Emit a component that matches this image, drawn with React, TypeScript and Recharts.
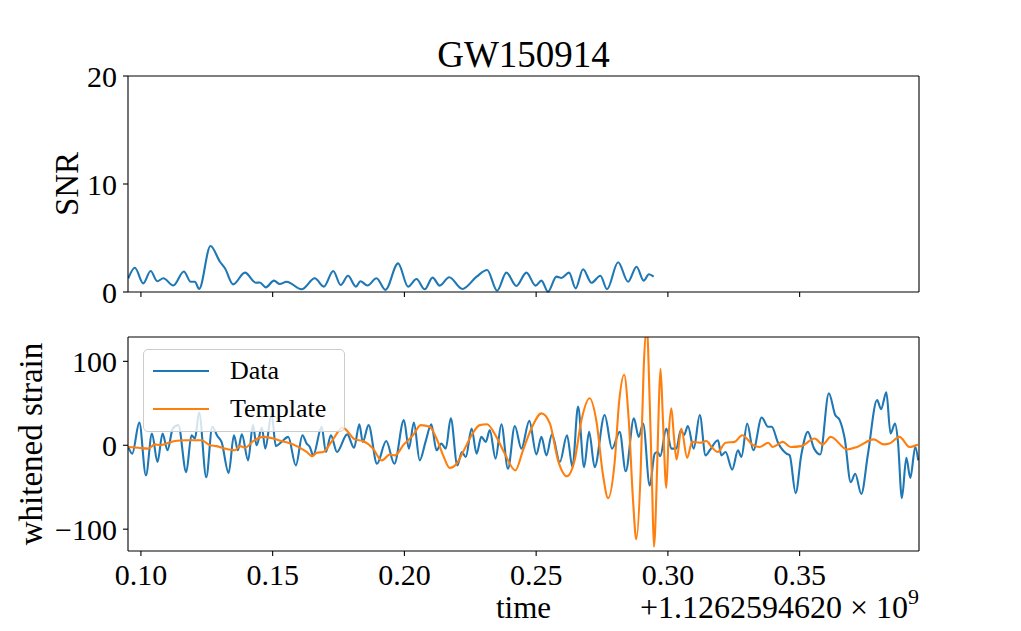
import React from 'react';
import { LineChart, Line, XAxis, YAxis, Legend } from 'recharts';

// ---------- data ----------
const snrTime = [0.0952, 0.0977, 0.1009, 0.1037, 0.1062, 0.1085, 0.1123, 0.1163, 0.1189, 0.1205, 0.1221, 0.1264, 0.1300, 0.1319, 0.1350, 0.1395, 0.1436, 0.1451, 0.1474, 0.1505, 0.1527, 0.1553, 0.1610, 0.1660, 0.1694, 0.1730, 0.1758, 0.1786, 0.1816, 0.1833, 0.1860, 0.1894, 0.1928, 0.1976, 0.2014, 0.2046, 0.2077, 0.2107, 0.2134, 0.2170, 0.2220, 0.2274, 0.2314, 0.2352, 0.2387, 0.2425, 0.2463, 0.2498, 0.2520, 0.2545, 0.2577, 0.2596, 0.2625, 0.2650, 0.2678, 0.2710, 0.2744, 0.2769, 0.2811, 0.2849, 0.2881, 0.2908, 0.2928, 0.2946];
const snrValue = [1.27, 2.25, 0.80, 1.94, 1.00, 1.27, 0.60, 1.90, 0.95, 0.95, 0.28, 4.26, 2.80, 2.20, 0.71, 1.79, 0.86, 0.88, 0.43, 1.05, 0.74, 0.95, 0.25, 1.27, 0.50, 1.94, 0.65, 1.50, 0.50, 1.00, 0.60, 1.27, 0.20, 2.65, 0.50, 1.20, 0.25, 1.33, 0.59, 1.36, 0.28, 1.42, 2.04, 0.12, 1.79, 0.56, 1.79, 0.59, 1.05, 0.03, 1.42, 1.30, 1.79, 0.34, 2.10, 0.86, 1.51, 0.25, 2.75, 0.95, 2.34, 1.05, 1.64, 1.42];

const dataTime = [0.0952, 0.0967, 0.0994, 0.1019, 0.1042, 0.1063, 0.1082, 0.1101, 0.1121, 0.1142, 0.1172, 0.1192, 0.1205, 0.1221, 0.1248, 0.1271, 0.1290, 0.1306, 0.1333, 0.1353, 0.1368, 0.1383, 0.1407, 0.1425, 0.1439, 0.1459, 0.1472, 0.1496, 0.1512, 0.1534, 0.1559, 0.1588, 0.1613, 0.1629, 0.1641, 0.1654, 0.1686, 0.1702, 0.1721, 0.1744, 0.1783, 0.1809, 0.1829, 0.1842, 0.1864, 0.1896, 0.1931, 0.1962, 0.1998, 0.2017, 0.2036, 0.2058, 0.2081, 0.2102, 0.2122, 0.2140, 0.2157, 0.2176, 0.2201, 0.2218, 0.2233, 0.2255, 0.2274, 0.2292, 0.2309, 0.2324, 0.2346, 0.2368, 0.2393, 0.2419, 0.2444, 0.2474, 0.2501, 0.2520, 0.2539, 0.2560, 0.2590, 0.2617, 0.2638, 0.2659, 0.2682, 0.2701, 0.2722, 0.2760, 0.2788, 0.2817, 0.2840, 0.2871, 0.2889, 0.2906, 0.2931, 0.2950, 0.2961, 0.2971, 0.2994, 0.3013, 0.3032, 0.3049, 0.3061, 0.3076, 0.3098, 0.3121, 0.3143, 0.3159, 0.3190, 0.3203, 0.3219, 0.3244, 0.3266, 0.3279, 0.3301, 0.3324, 0.3356, 0.3380, 0.3394, 0.3418, 0.3450, 0.3462, 0.3485, 0.3506, 0.3531, 0.3555, 0.3578, 0.3611, 0.3635, 0.3652, 0.3671, 0.3694, 0.3711, 0.3734, 0.3759, 0.3794, 0.3809, 0.3829, 0.3845, 0.3862, 0.3873, 0.3888, 0.3905, 0.3920, 0.3939, 0.3950];
const dataStrain = [-2, -10, 27, -36, 14, -20, 14, -6, 20, 24, -32, 12, 8, 39, -38, 22, 11, 4, -33, 12, -6, 13, -18, 24, 0, 21, -4, 37, -1, 4, 10, -24, 12, 2, -2, -12, 22, -8, 12, -8, 13, -3, 25, 4, 24, -22, 5, -22, 30, -4, 27, -18, 5, 25, -6, 2, -4, 32, -24, -8, -14, 20, -10, 10, 4, 18, -16, 25, -28, 23, -4, 29, -11, 10, -12, 13, -20, 12, -26, 46, -26, 16, -26, 36, -4, 16, -31, 32, 10, 26, -48, -10, -8, -13, 20, -4, -4, 18, 12, 23, -4, 36, -12, -6, 6, -12, -8, -29, -6, -14, 26, -6, 33, 22, 22, 3, -10, -12, -57, -12, 16, -4, -11, 62, 36, 30, 8, -44, -34, -58, -11, 54, 43, 63, 14, 26, 5, -63, -15, -39, -2, -18];

const templateTime = [0.0952, 0.0990, 0.1028, 0.1053, 0.1072, 0.1097, 0.1129, 0.1167, 0.1230, 0.1262, 0.1287, 0.1319, 0.1357, 0.1376, 0.1395, 0.1426, 0.1464, 0.1502, 0.1534, 0.1559, 0.1597, 0.1629, 0.1650, 0.1667, 0.1692, 0.1723, 0.1766, 0.1812, 0.1843, 0.1881, 0.1914, 0.1945, 0.1964, 0.1998, 0.2033, 0.2062, 0.2096, 0.2122, 0.2147, 0.2172, 0.2198, 0.2229, 0.2255, 0.2286, 0.2313, 0.2349, 0.2381, 0.2421, 0.2450, 0.2482, 0.2520, 0.2552, 0.2583, 0.2617, 0.2646, 0.2672, 0.2703, 0.2729, 0.2754, 0.2773, 0.2798, 0.2815, 0.2834, 0.2851, 0.2868, 0.2880, 0.2897, 0.2908, 0.2920, 0.2931, 0.2940, 0.2947, 0.2959, 0.2966, 0.2972, 0.2981, 0.2994, 0.3003, 0.3013, 0.3023, 0.3033, 0.3051, 0.3073, 0.3092, 0.3121, 0.3146, 0.3166, 0.3189, 0.3219, 0.3253, 0.3282, 0.3324, 0.3348, 0.3381, 0.3398, 0.3436, 0.3466, 0.3506, 0.3557, 0.3588, 0.3618, 0.3680, 0.3718, 0.3781, 0.3819, 0.3841, 0.3879, 0.3917, 0.3949];
const templateStrain = [-2, -3, -4, 1, 0, 2, 5, 6, 6, 0, -1, -4, -6, -1, -3, 5, 10, 8, 5, 3, -2, -8, -13, -9, -8, 4, 21, 7, 5, -4, -18, -11, -12, 1, 12, 24, 22, 8, -12, -27, -22, -4, 12, 24, 25, 10, -10, -30, -6, 20, 38, 26, -18, -37, -18, 30, 56, 28, -36, -63, -20, 52, 84, 32, -67, -112, -28, 91, 140, 52, -48, -121, -28, 52, 91, 32, -51, 12, 44, 10, -17, 20, -15, 4, 3, 5, -2, -8, 3, 4, 12, 0, -2, 3, -2, 4, -2, -1, 8, 1, 10, -5, -2, 7, 1, 2, 10, -2, 1];

const xTicks = [0.10, 0.15, 0.20, 0.25, 0.30, 0.35];
const xDomain = [0.0951, 0.3953];
const snrTicks = [0, 10, 20];
const snrDomain = [0, 20];
const strainTicks = [-100, 0, 100];
const strainDomain = [-126, 129];

const titleText = 'GW150914';
const snrLabel = 'SNR';
const strainLabel = 'whitened strain';
const xLabelText = 'time';
const offsetMantissa = '+1.1262594620 × 10';
const offsetExponent = '9';
const seriesNames = ['Data', 'Template'];

// ---------- built tables ----------
const snrRows = snrTime.map((t, i) => ({ t, v: snrValue[i] }));
const dataRows = dataTime.map((t, i) => ({ t, v: dataStrain[i] }));
const templateRows = templateTime.map((t, i) => ({ t, v: templateStrain[i] }));

const FONT = "'Liberation Serif', 'DejaVu Serif', serif";
const BLUE = '#1f77b4';
const ORANGE = '#ff7f0e';
const TICK_STYLE = { fontSize: 30, fontFamily: FONT, fill: '#000' };
const AXIS_LINE = { stroke: '#000', strokeWidth: 1.1 };

const minusFmt = (v: number) => (v < 0 ? '\u2212' + Math.abs(v) : String(v));

const YLabelContent = (text: string, baselineX: number) => (props: any) => {
  const vb = props.viewBox || { x: 0, y: 0, width: 128, height: 216 };
  const x = vb.x + baselineX;
  const y = vb.y + vb.height / 2;
  return (
    <text x={x} y={y} transform={`rotate(-90 ${x} ${y})`} textAnchor="middle" fontFamily={FONT} fontSize={33} fill="#000">
      {text}
    </text>
  );
};

const TitleContent = (props: any) => {
  const vb = props.viewBox || { x: 128, y: 76, width: 791, height: 1 };
  return (
    <text x={vb.x + vb.width / 2} y={vb.y - 8} textAnchor="middle" fontFamily={FONT} fontSize={37} fill="#000">
      {titleText}
    </text>
  );
};

const XLabelContent = (props: any) => {
  const vb = props.viewBox || { x: 128, y: 251, width: 791, height: 80 };
  const base = vb.y + 67;
  return (
    <g>
      <text x={vb.x + vb.width / 2} y={base} textAnchor="middle" fontFamily={FONT} fontSize={31} fill="#000">
        {xLabelText}
      </text>
      <text x={vb.x + vb.width} y={base} textAnchor="end" fontFamily={FONT} fontSize={32} fill="#000">
        {offsetMantissa}
        <tspan fontSize={22} dy={-14}>{offsetExponent}</tspan>
      </text>
    </g>
  );
};

const LegendBox = (props: any) => {
  const payload = props.payload || [];
  return (
    <div
      style={{
        position: 'relative',
        width: 202,
        height: 83,
        boxSizing: 'border-box',
        border: '1px solid #cccccc',
        borderRadius: 5,
        background: 'rgba(255,255,255,0.8)',
        fontFamily: FONT,
        fontSize: 26,
        color: '#000',
      }}
    >
      {payload.map((p: any, i: number) => (
        <div key={i} style={{ position: 'absolute', left: 0, top: 6 + i * 38, height: 30, width: '100%' }}>
          <div style={{ position: 'absolute', left: 9, top: 14, width: 56, height: 2, background: p.color }} />
          <span style={{ position: 'absolute', left: 86, top: 0, lineHeight: '30px', whiteSpace: 'nowrap' }}>{p.value}</span>
        </div>
      ))}
    </div>
  );
};

export default function App() {
  return (
    <div style={{ position: 'absolute', left: 0, top: 0, width: 1021, height: 631, background: '#fff', overflow: 'hidden' }}>
      <div style={{ position: 'absolute', left: 0, top: 0 }}>
        <LineChart width={1021} height={320} data={snrRows} margin={{ top: 75, right: 101, bottom: 20, left: 0 }}>
          <XAxis
            dataKey="t"
            type="number"
            domain={xDomain}
            ticks={xTicks}
            allowDataOverflow
            height={8}
            tickSize={5}
            tickFormatter={() => ''}
            axisLine={AXIS_LINE}
            tickLine={AXIS_LINE}
          />
          <XAxis
            xAxisId="top"
            orientation="top"
            dataKey="t"
            type="number"
            domain={xDomain}
            ticks={xTicks}
            allowDataOverflow
            height={1}
            tick={false}
            tickLine={false}
            axisLine={AXIS_LINE}
            label={TitleContent}
          />
          <YAxis
            type="number"
            domain={snrDomain}
            ticks={snrTicks}
            width={128}
            tickSize={5}
            tickMargin={6}
            tick={TICK_STYLE}
            axisLine={AXIS_LINE}
            tickLine={AXIS_LINE}
            label={YLabelContent(snrLabel, 78)}
          />
          <YAxis
            yAxisId="right"
            orientation="right"
            type="number"
            domain={snrDomain}
            ticks={snrTicks}
            width={1}
            tick={false}
            tickLine={false}
            axisLine={AXIS_LINE}
          />
          <Line type="monotone" dataKey="v" stroke={BLUE} strokeWidth={2.1} dot={false} isAnimationActive={false} />
        </LineChart>
      </div>
      <div style={{ position: 'absolute', left: 0, top: 300 }}>
        <LineChart width={1021} height={331} margin={{ top: 36, right: 101, bottom: 0, left: 0 }}>
          <XAxis
            dataKey="t"
            type="number"
            domain={xDomain}
            ticks={xTicks}
            allowDataOverflow
            height={80}
            tickSize={5}
            tickMargin={8}
            tick={TICK_STYLE}
            tickFormatter={(v: number) => v.toFixed(2)}
            axisLine={AXIS_LINE}
            tickLine={AXIS_LINE}
            label={XLabelContent}
          />
          <XAxis
            xAxisId="top"
            orientation="top"
            dataKey="t"
            type="number"
            domain={xDomain}
            ticks={xTicks}
            allowDataOverflow
            height={1}
            tick={false}
            tickLine={false}
            axisLine={AXIS_LINE}
          />
          <YAxis
            type="number"
            domain={strainDomain}
            ticks={strainTicks}
            allowDataOverflow
            width={128}
            tickSize={5}
            tickMargin={6}
            tick={TICK_STYLE}
            tickFormatter={minusFmt}
            axisLine={AXIS_LINE}
            tickLine={AXIS_LINE}
            label={YLabelContent(strainLabel, 42)}
          />
          <YAxis
            yAxisId="right"
            orientation="right"
            type="number"
            domain={strainDomain}
            ticks={strainTicks}
            width={1}
            tick={false}
            tickLine={false}
            axisLine={AXIS_LINE}
          />
          <Legend
            layout="horizontal"
            verticalAlign="middle"
            align="center"
            width={202}
            height={83}
            wrapperStyle={{ left: 143, top: 49, width: 202, height: 83 }}
            content={LegendBox}
          />
          <Line data={dataRows} type="monotone" dataKey="v" name={seriesNames[0]} stroke={BLUE} strokeWidth={2.1} dot={false} isAnimationActive={false} />
          <Line data={templateRows} type="monotone" dataKey="v" name={seriesNames[1]} stroke={ORANGE} strokeWidth={2.1} dot={false} isAnimationActive={false} />
        </LineChart>
      </div>
    </div>
  );
}
